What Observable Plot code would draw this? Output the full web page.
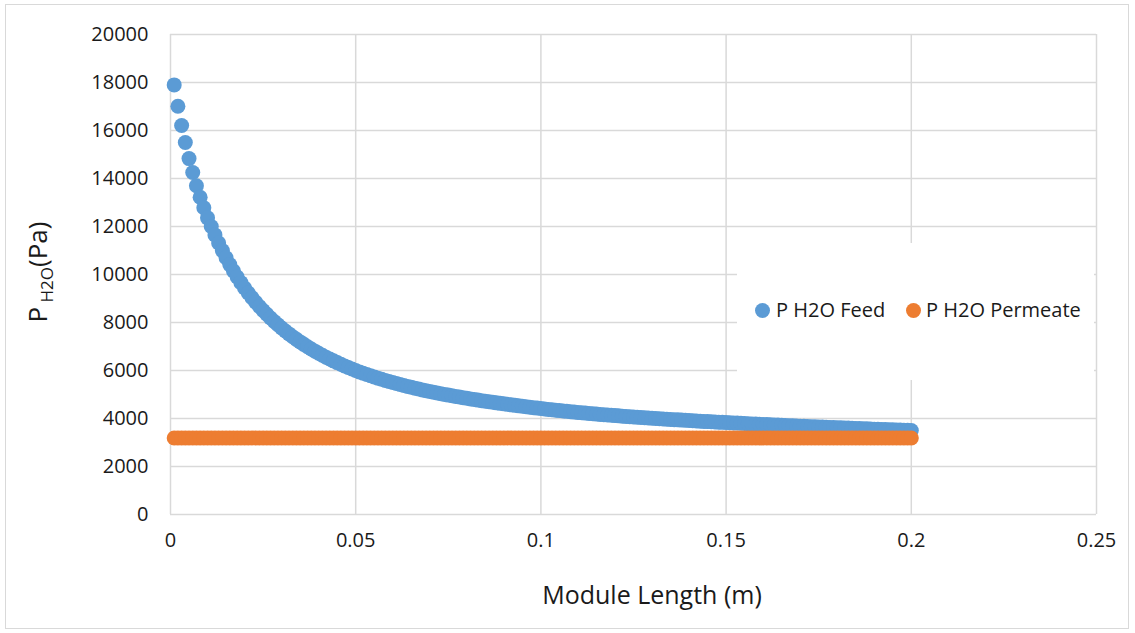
<!DOCTYPE html>
<html>
<head>
<meta charset="utf-8">
<script src="https://cdn.jsdelivr.net/npm/d3@7"></script>
<script src="https://cdn.jsdelivr.net/npm/@observablehq/plot@0.6"></script>
<style>
  html, body { margin: 0; padding: 0; background: #ffffff; }
  #wrap { position: relative; width: 1135px; height: 633px; overflow: hidden; font-family: "Open Sans", sans-serif; }
  #frame { position: absolute; left: 5px; top: 4px; width: 1124px; height: 625px; border: 1px solid #d9d9d9; box-sizing: border-box; }
  #chart { position: absolute; left: 0; top: 0; }
  #legend { position: absolute; left: 737px; top: 243px; width: 357px; height: 137px; background: #ffffff; }
  .lg-dot { position: absolute; width: 15px; height: 15px; border-radius: 50%; }
  .lg-txt { position: absolute; font-size: 20px; color: #1a1a1a; line-height: 20px; white-space: nowrap; }
</style>
</head>
<body>
<div id="wrap">
  <div id="frame"></div>
  <div id="chart"></div>
  <div id="legend"></div>
</div>
<script>
// Module length, in millimetres (converted to metres for plotting)
const lengthMm = [
  1,2,3,4,5,6,7,8,9,10,11,12,13,14,15,16,17,18,19,20,
  21,22,23,24,25,26,27,28,29,30,31,32,33,34,35,36,37,38,39,40,
  41,42,43,44,45,46,47,48,49,50,51,52,53,54,55,56,57,58,59,60,
  61,62,63,64,65,66,67,68,69,70,71,72,73,74,75,76,77,78,79,80,
  81,82,83,84,85,86,87,88,89,90,91,92,93,94,95,96,97,98,99,100,
  101,102,103,104,105,106,107,108,109,110,111,112,113,114,115,116,117,118,119,120,
  121,122,123,124,125,126,127,128,129,130,131,132,133,134,135,136,137,138,139,140,
  141,142,143,144,145,146,147,148,149,150,151,152,153,154,155,156,157,158,159,160,
  161,162,163,164,165,166,167,168,169,170,171,172,173,174,175,176,177,178,179,180,
  181,182,183,184,185,186,187,188,189,190,191,192,193,194,195,196,197,198,199,200
];

// P H2O Feed (Pa)
const feedPa = [
  17900,17010,16210,15500,14830,14250,13700,13220,12780,12360,
  12000,11650,11315,10997,10697,10413,10143,9895,9661,9440,
  9231,9033,8846,8669,8501,8341,8189,8044,7905,7772,
  7645,7524,7408,7297,7191,7089,6991,6897,6807,6720,
  6636,6555,6477,6402,6330,6260,6192,6126,6062,6000,
  5942,5886,5832,5780,5730,5681,5634,5588,5543,5500,
  5458,5417,5377,5338,5300,5263,5227,5192,5158,5125,
  5093,5062,5032,5003,4975,4947,4920,4893,4867,4841,
  4816,4791,4767,4743,4720,4697,4675,4653,4631,4610,
  4589,4568,4548,4528,4508,4489,4470,4451,4433,4415,
  4397,4379,4362,4345,4329,4313,4297,4282,4267,4252,
  4238,4224,4210,4197,4184,4171,4158,4146,4134,4122,
  4110,4098,4086,4075,4064,4053,4042,4031,4021,4011,
  4001,3991,3981,3971,3961,3952,3943,3934,3925,3916,
  3907,3898,3889,3880,3872,3864,3856,3848,3840,3832,
  3824,3816,3808,3800,3792,3784,3776,3768,3760,3752,
  3745,3738,3731,3724,3717,3710,3703,3696,3689,3682,
  3675,3668,3661,3654,3647,3641,3635,3629,3623,3617,
  3611,3605,3599,3593,3587,3581,3575,3569,3563,3557,
  3551,3545,3539,3533,3527,3521,3516,3511,3506,3501
];

// P H2O Permeate (Pa) (flat)
const permeatePa = [
  3190,3190,3190,3190,3190,3190,3190,3190,3190,3190,3190,3190,3190,3190,3190,3190,3190,3190,3190,3190,
  3190,3190,3190,3190,3190,3190,3190,3190,3190,3190,3190,3190,3190,3190,3190,3190,3190,3190,3190,3190,
  3190,3190,3190,3190,3190,3190,3190,3190,3190,3190,3190,3190,3190,3190,3190,3190,3190,3190,3190,3190,
  3190,3190,3190,3190,3190,3190,3190,3190,3190,3190,3190,3190,3190,3190,3190,3190,3190,3190,3190,3190,
  3190,3190,3190,3190,3190,3190,3190,3190,3190,3190,3190,3190,3190,3190,3190,3190,3190,3190,3190,3190,
  3190,3190,3190,3190,3190,3190,3190,3190,3190,3190,3190,3190,3190,3190,3190,3190,3190,3190,3190,3190,
  3190,3190,3190,3190,3190,3190,3190,3190,3190,3190,3190,3190,3190,3190,3190,3190,3190,3190,3190,3190,
  3190,3190,3190,3190,3190,3190,3190,3190,3190,3190,3190,3190,3190,3190,3190,3190,3190,3190,3190,3190,
  3190,3190,3190,3190,3190,3190,3190,3190,3190,3190,3190,3190,3190,3190,3190,3190,3190,3190,3190,3190,
  3190,3190,3190,3190,3190,3190,3190,3190,3190,3190,3190,3190,3190,3190,3190,3190,3190,3190,3190,3190
];

const seriesNames = ["P H2O Feed", "P H2O Permeate"];
const seriesColors = ["#5B9BD5", "#ED7D31"];
const xTicks = [0, 0.05, 0.1, 0.15, 0.2, 0.25];
const yTicks = [0, 2000, 4000, 6000, 8000, 10000, 12000, 14000, 16000, 18000, 20000];
const xTitle = "Module Length (m)";

const feedData = lengthMm.map((mm, i) => ({x: mm / 1000, y: feedPa[i]}));
const permData = lengthMm.map((mm, i) => ({x: mm / 1000, y: permeatePa[i]}));

const gridStyle = {stroke: "#d9d9d9", strokeOpacity: 1, strokeWidth: 1.5};

const svg = Plot.plot({
  width: 1135,
  height: 633,
  marginLeft: 170,
  marginRight: 39,
  marginTop: 34,
  marginBottom: 119,
  style: {fontFamily: "Open Sans, sans-serif", fontSize: "20px", background: "transparent", overflow: "visible"},
  x: {domain: [0, 0.25], label: null},
  y: {domain: [0, 20000], label: null},
  marks: [
    Plot.gridX(xTicks, gridStyle),
    Plot.gridY(yTicks, gridStyle),
    Plot.axisX(xTicks, {tickSize: 0, tickPadding: 18, fontSize: 20, fill: "#1a1a1a", tickFormat: d => String(d), label: null}),
    Plot.axisY(yTicks, {tickSize: 0, tickPadding: 22, fontSize: 20, fill: "#1a1a1a", tickFormat: d => String(d), label: null}),
    Plot.dot(feedData, {x: "x", y: "y", r: 7.5, fill: seriesColors[0], stroke: "none"}),
    Plot.dot(permData, {x: "x", y: "y", r: 7.5, fill: seriesColors[1], stroke: "none"})
  ]
});

const s = d3.select(svg);
// x axis title
s.append("text")
  .attr("x", 652).attr("y", 597)
  .attr("text-anchor", "middle").attr("dominant-baseline", "middle")
  .attr("font-size", 25).attr("fill", "#1a1a1a")
  .text(xTitle);
// y axis title with subscript
const yt = s.append("text")
  .attr("transform", "translate(47,272) rotate(-90)")
  .attr("text-anchor", "middle")
  .attr("font-size", 26).attr("fill", "#1a1a1a");
yt.append("tspan").text("P");
yt.append("tspan").attr("font-size", 17).attr("dy", 6).text(" H2O");
yt.append("tspan").attr("dy", -6).text("(Pa)");

document.getElementById("chart").appendChild(svg);

// legend
const lg = document.getElementById("legend");
const items = [
  {name: seriesNames[0], color: seriesColors[0], dotX: 18, txtX: 39},
  {name: seriesNames[1], color: seriesColors[1], dotX: 169, txtX: 189}
];
items.forEach(it => {
  const d = document.createElement("div");
  d.className = "lg-dot";
  d.style.left = it.dotX + "px";
  d.style.top = "60px";
  d.style.background = it.color;
  lg.appendChild(d);
  const t = document.createElement("div");
  t.className = "lg-txt";
  t.style.left = it.txtX + "px";
  t.style.top = "57px";
  t.textContent = it.name;
  lg.appendChild(t);
});
</script>
</body>
</html>
